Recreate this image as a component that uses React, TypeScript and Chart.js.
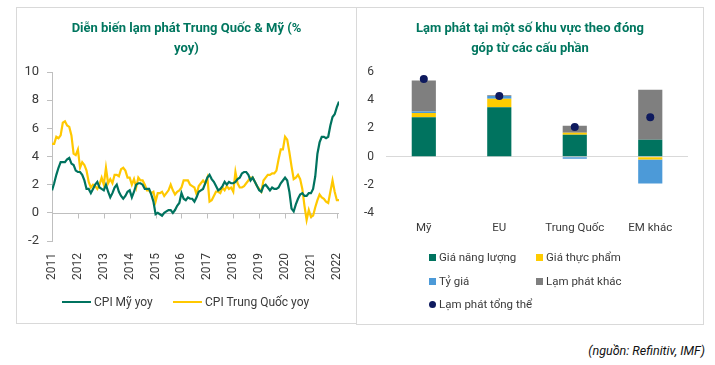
import React, { useEffect, useRef } from "react";
import { Chart, registerables } from "chart.js";

Chart.register(...registerables);

const FONT = "Roboto, 'Noto Sans', sans-serif";
const TEXT = "#3a3a3a";
const AXIS = "#bfbfbf";
const TITLE_COLOR = "#00765F";

// ---- Left chart data (monthly, Jan 2011 .. Feb 2022) ----
const startYear = 2011;
const usCpi = [
  1.6, 2.1, 2.7, 3.2, 3.6, 3.6, 3.6, 3.8, 3.9, 3.5, 3.4, 3.0,
  2.9, 2.9, 2.7, 2.3, 1.7, 1.7, 1.4, 1.7, 2.0, 2.2, 1.8, 1.7,
  1.6, 2.0, 1.5, 1.1, 1.4, 1.8, 2.0, 1.5, 1.2, 1.0, 1.2, 1.5,
  1.6, 1.1, 1.5, 2.0, 2.1, 2.1, 2.0, 1.7, 1.7, 1.7, 1.3, 0.8,
  -0.1, 0.0, -0.1, -0.2, 0.0, 0.1, 0.2, 0.2, 0.0, 0.2, 0.5, 0.7,
  1.4, 1.0, 0.9, 1.1, 1.0, 1.0, 0.8, 1.1, 1.5, 1.6, 1.7, 2.1,
  2.5, 2.7, 2.4, 2.2, 1.9, 1.6, 1.7, 1.9, 2.2, 2.0, 2.2, 2.1,
  2.1, 2.2, 2.4, 2.5, 2.8, 2.9, 2.9, 2.7, 2.3, 2.5, 2.2, 1.9,
  1.6, 1.5, 1.9, 2.0, 1.8, 1.6, 1.8, 1.7, 1.7, 1.8, 2.1, 2.3,
  2.5, 2.3, 1.5, 0.3, 0.1, 0.6, 1.0, 1.3, 1.4, 1.2, 1.2, 1.4,
  1.4, 1.7, 2.6, 4.2, 5.0, 5.4, 5.4, 5.3, 5.4, 6.2, 6.8, 7.0,
  7.5, 7.9,
];
const cnCpi = [
  4.9, 4.9, 5.4, 5.3, 5.5, 6.4, 6.5, 6.2, 6.1, 5.5, 4.2, 4.1,
  4.5, 3.2, 3.6, 3.4, 3.0, 2.2, 1.8, 2.0, 1.9, 1.7, 2.0, 2.5,
  2.0, 3.2, 2.1, 2.4, 2.1, 2.7, 2.7, 2.6, 3.1, 3.2, 3.0, 2.5,
  2.5, 2.0, 2.4, 1.8, 2.5, 2.3, 2.3, 2.0, 1.6, 1.6, 1.4, 1.5,
  0.8, 1.4, 1.4, 1.5, 1.2, 1.4, 1.6, 2.0, 1.6, 1.3, 1.5, 1.6,
  1.8, 2.3, 2.3, 2.3, 2.0, 1.9, 1.8, 1.3, 1.9, 2.1, 2.3, 2.1,
  2.5, 0.8, 0.9, 1.2, 1.5, 1.5, 1.4, 1.8, 1.6, 1.9, 1.7, 1.8,
  1.5, 2.9, 2.1, 1.8, 1.8, 1.9, 2.1, 2.3, 2.5, 2.5, 2.2, 1.9,
  1.7, 1.5, 2.3, 2.5, 2.7, 2.7, 2.8, 2.8, 3.0, 3.8, 4.5, 4.5,
  5.4, 5.2, 4.3, 3.3, 2.4, 2.5, 2.7, 2.4, 1.7, 0.5, -0.5, 0.2,
  -0.3, -0.2, 0.4, 0.9, 1.3, 1.1, 1.0, 0.8, 0.7, 1.5, 2.3, 1.5,
  0.9, 0.9,
];
const lineNames = ["CPI Mỹ yoy", "CPI Trung Quốc yoy"];
const lineColors = ["#00735F", "#FFC800"];
const leftYTicks = { min: -2, max: 10, step: 2 };
const leftTitle = ["Diễn biến lạm phát Trung Quốc & Mỹ (%", "yoy)"];

// ---- Right chart data ----
const regions = ["Mỹ", "EU", "Trung Quốc", "EM khác"];
const energy = [2.8, 3.5, 1.55, 1.2];
const food = [0.3, 0.6, 0.15, -0.2];
const fx = [0.1, 0.2, -0.15, -1.7];
const other = [2.2, 0.05, 0.5, 3.55];
const total = [5.5, 4.3, 2.1, 2.8];
const barNames = ["Giá năng lượng", "Giá thực phẩm", "Tỷ giá", "Lạm phát khác"];
const barColors = ["#00735F", "#FFCC00", "#4C9AD8", "#7F7F7F"];
const totalName = "Lạm phát tổng thể";
const totalColor = "#0E1A5E";
const rightYTicks = { min: -4, max: 6, step: 2 };
const rightTitle = ["Lạm phát tại một số khu vực theo đóng", "góp từ các cấu phần"];
const sourceText = "(nguồn: Refinitiv, IMF)";

const zeroAxisPlugin = {
  id: "zeroAxis",
  beforeDatasetsDraw(chart: any) {
    const { ctx, chartArea, scales } = chart;
    const x = scales.x;
    const y = scales.y;
    const y0 = Math.round(y.getPixelForValue(0)) + 0.5;
    ctx.save();
    ctx.strokeStyle = AXIS;
    ctx.lineWidth = 1;
    ctx.beginPath();
    ctx.moveTo(chartArea.left, y0);
    ctx.lineTo(chartArea.right, y0);
    x.ticks.forEach((t: any) => {
      const px = Math.round(x.getPixelForValue(t.value)) + 0.5;
      ctx.moveTo(px, y0);
      ctx.lineTo(px, y0 + 5);
    });
    ctx.stroke();
    ctx.restore();
  },
};

function LeftChart() {
  const ref = useRef<HTMLCanvasElement | null>(null);
  useEffect(() => {
    const series = [usCpi, cnCpi];
    const chart = new Chart(ref.current as HTMLCanvasElement, {
      type: "line",
      data: {
        datasets: series.map((s, k) => ({
          label: lineNames[k],
          data: s.map((v, i) => ({ x: i, y: v })),
          borderColor: lineColors[k],
          backgroundColor: lineColors[k],
          borderWidth: 2.2,
          pointRadius: 0,
          tension: 0,
        })),
      },
      options: {
        animation: false,
        responsive: false,
        devicePixelRatio: 1,
        layout: { autoPadding: false, padding: { left: -0.6, right: 17, top: 64, bottom: 41 } },
        scales: {
          x: {
            type: "linear",
            min: 0,
            max: usCpi.length - 1,
            grid: { display: true, drawOnChartArea: false, drawTicks: true, tickLength: 10, color: "rgba(0,0,0,0)" },
            border: { display: false },
            ticks: {
              stepSize: 12,
              includeBounds: false,
              autoSkip: false,
              minRotation: 90,
              maxRotation: 90,
              padding: 2,
              color: TEXT,
              font: { family: FONT, size: 12 },
              callback: (v: any) => (v % 12 === 0 ? String(startYear + v / 12) : ""),
            },
          },
          y: {
            min: leftYTicks.min,
            max: leftYTicks.max,
            grid: { drawOnChartArea: false, drawTicks: true, tickLength: 5, color: AXIS },
            border: { display: true, color: AXIS },
            ticks: {
              stepSize: leftYTicks.step,
              padding: 8,
              color: TEXT,
              font: { family: FONT, size: 13 },
            },
          },
        },
        plugins: {
          title: { display: false },
          tooltip: { enabled: false },
          legend: { display: false },
        },
      },
      plugins: [zeroAxisPlugin],
    } as any);
    return () => chart.destroy();
  }, []);
  return <canvas ref={ref} width={339} height={315} style={{ display: "block" }} />;
}

function RightChart() {
  const ref = useRef<HTMLCanvasElement | null>(null);
  useEffect(() => {
    const parts = [energy, food, fx, other];
    const chart = new Chart(ref.current as HTMLCanvasElement, {
      type: "bar",
      data: {
        labels: regions,
        datasets: [
          {
            type: "line",
            label: totalName,
            data: total,
            showLine: false,
            pointRadius: 4,
            pointBackgroundColor: totalColor,
            pointBorderColor: totalColor,
            pointBorderWidth: 0,
            borderColor: totalColor,
            backgroundColor: totalColor,
            stack: "total",
            order: -1,
          },
          ...parts.map((p, k) => ({
            type: "bar",
            label: barNames[k],
            data: p,
            backgroundColor: barColors[k],
            borderWidth: 0,
            stack: "parts",
            barPercentage: 0.32,
            categoryPercentage: 1,
          })),
        ],
      },
      options: {
        animation: false,
        responsive: false,
        devicePixelRatio: 1,
        layout: { autoPadding: false, padding: { left: -5, right: 15, top: 64, bottom: 81 } },
        scales: {
          x: {
            stacked: true,
            grid: { display: false, drawTicks: false },
            border: { display: false },
            ticks: { padding: 8, color: TEXT, font: { family: FONT, size: 11.5 } },
          },
          y: {
            stacked: true,
            min: rightYTicks.min,
            max: rightYTicks.max,
            grid: {
              drawTicks: false,
              color: (c: any) => (c.tick && c.tick.value === 0 ? "#d9d9d9" : "rgba(0,0,0,0)"),
            },
            border: { display: false },
            ticks: {
              stepSize: rightYTicks.step,
              padding: 12,
              color: TEXT,
              font: { family: FONT, size: 12 },
            },
          },
        },
        plugins: {
          legend: { display: false },
          tooltip: { enabled: false },
        },
      },
    } as any);
    return () => chart.destroy();
  }, []);
  return <canvas ref={ref} width={346} height={316} style={{ display: "block" }} />;
}

const titleStyle: React.CSSProperties = {
  position: "absolute",
  left: 0,
  right: 0,
  top: 10,
  textAlign: "center",
  fontFamily: FONT,
  fontWeight: 700,
  fontSize: 13,
  lineHeight: "19.5px",
  color: TITLE_COLOR,
};

function LeftLegend() {
  const items = [
    { name: lineNames[0], color: lineColors[0], x: 45 },
    { name: lineNames[1], color: lineColors[1], x: 156 },
  ];
  return (
    <>
      {items.map((it) => (
        <div
          key={it.name}
          style={{
            position: "absolute",
            left: it.x,
            top: 294 - 8,
            height: 16,
            display: "flex",
            alignItems: "center",
            fontFamily: FONT,
            fontSize: 12,
            color: TEXT,
            whiteSpace: "nowrap",
          }}
        >
          <span style={{ display: "inline-block", width: 29, height: 2, background: it.color, marginRight: 3 }} />
          {it.name}
        </div>
      ))}
    </>
  );
}

function RightLegend() {
  const items = [
    { name: barNames[0], color: barColors[0], x: 72, y: 249, dot: false },
    { name: barNames[1], color: barColors[1], x: 179, y: 249, dot: false },
    { name: barNames[2], color: barColors[2], x: 72, y: 273, dot: false },
    { name: barNames[3], color: barColors[3], x: 179, y: 273, dot: false },
    { name: totalName, color: totalColor, x: 72, y: 296, dot: true },
  ];
  return (
    <>
      {items.map((it) => (
        <div
          key={it.name}
          style={{
            position: "absolute",
            left: it.x,
            top: it.y - 8,
            height: 16,
            display: "flex",
            alignItems: "center",
            fontFamily: FONT,
            fontSize: 11.5,
            color: TEXT,
            whiteSpace: "nowrap",
          }}
        >
          <span
            style={{
              display: "inline-block",
              width: 7,
              height: 7,
              background: it.color,
              borderRadius: it.dot ? "50%" : 0,
              marginRight: 3,
            }}
          />
          {it.name}
        </div>
      ))}
    </>
  );
}

export default function App() {
  return (
    <div style={{ position: "absolute", left: 0, top: 0, width: 715, height: 365, background: "#fff" }}>
      <div
        style={{
          position: "absolute",
          left: 16,
          top: 7,
          width: 341,
          height: 317,
          boxSizing: "border-box",
          border: "1px solid #d9d9d9",
        }}
      >
        <LeftChart />
        <div style={titleStyle}>
          {leftTitle[0]}
          <br />
          {leftTitle[1]}
        </div>
        <LeftLegend />
      </div>
      <div
        style={{
          position: "absolute",
          left: 356,
          top: 7,
          width: 348,
          height: 318,
          boxSizing: "border-box",
          border: "1px solid #d9d9d9",
        }}
      >
        <RightChart />
        <div style={titleStyle}>
          {rightTitle[0]}
          <br />
          {rightTitle[1]}
        </div>
        <RightLegend />
      </div>
      <div
        style={{
          position: "absolute",
          right: 10,
          top: 343,
          fontFamily: FONT,
          fontStyle: "italic",
          fontSize: 12.5,
          color: "#111",
          whiteSpace: "nowrap",
        }}
      >
        {sourceText}
      </div>
    </div>
  );
}
